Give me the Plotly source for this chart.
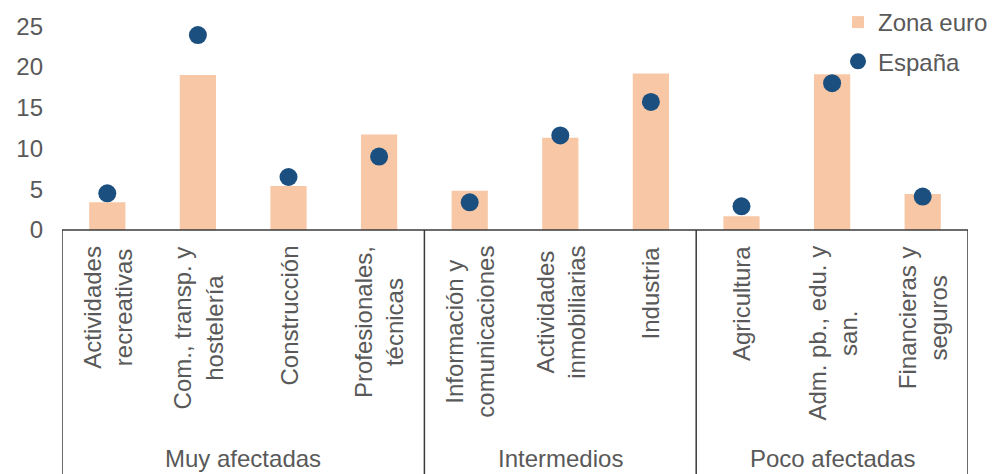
import plotly.graph_objects as go

# Sector data (percent of employment)
sectors = [
    "Actividades<br>recreativas",
    "Com., transp. y<br>hostelería",
    "Construcción",
    "Profesionales,<br>técnicas",
    "Información y<br>comunicaciones",
    "Actividades<br>inmobiliarias",
    "Industria",
    "Agricultura",
    "Adm. pb., edu. y<br>san.",
    "Financieras y<br>seguros",
]
zona_euro = [3.4, 19.0, 5.4, 11.7, 4.8, 11.3, 19.2, 1.7, 19.1, 4.4]
espana = [4.5, 23.9, 6.5, 9.0, 3.4, 11.6, 15.7, 2.9, 18.0, 4.1]
groups = ["Muy afectadas", "Intermedios", "Poco afectadas"]
group_sizes = [4, 3, 3]
y_ticks = [0, 5, 10, 15, 20, 25]

TEXT = "#595959"
LINE = "#3a3a3a"
FONT = "Liberation Sans, Arial, sans-serif"

W, H = 993, 474
ML, MR, MT, MB = 62, 23, 0, 244
plot_h = H - MT - MB
Y_MAX = 28.2

x = list(range(len(sectors)))

fig = go.Figure()
fig.add_trace(go.Bar(
    x=x, y=zona_euro, name="Zona euro", width=0.4,
    marker=dict(color="#F8C8A6", line=dict(width=0)),
    legendgroup="a",
))
fig.add_trace(go.Scatter(
    x=x, y=espana, name="España", mode="markers",
    marker=dict(color="#1B4F7F", size=18),
    legendgroup="b",
))

def px_to_paper(py):
    # pixel row (from top of page) -> paper y coordinate
    return (H - MB - py) / plot_h

# sector labels, rotated, hanging below the axis
for i, s in enumerate(sectors):
    fig.add_annotation(
        x=i, y=px_to_paper(244), xref="x", yref="paper",
        text=s, textangle=-90, showarrow=False,
        xanchor="center", yanchor="top", align="center",
        font=dict(family=FONT, size=24, color=TEXT),
    )

# group boxes: separators and labels
bounds = [-0.5]
for n in group_sizes:
    bounds.append(bounds[-1] + n)
bottom = px_to_paper(H + 5)
for b in bounds:
    fig.add_shape(type="line", xref="x", yref="paper",
                  x0=b, x1=b, y0=0, y1=bottom,
                  line=dict(color=LINE, width=1.5))
fig.add_shape(type="line", xref="x", yref="paper",
              x0=bounds[0], x1=bounds[-1], y0=0, y1=0,
              line=dict(color=LINE, width=1.5))
for g, a, b in zip(groups, bounds[:-1], bounds[1:]):
    fig.add_annotation(
        x=(a + b) / 2, y=px_to_paper(458), xref="x", yref="paper",
        text=g, showarrow=False, xanchor="center", yanchor="middle",
        font=dict(family=FONT, size=24, color=TEXT),
    )

fig.update_layout(
    width=W, height=H,
    margin=dict(l=ML, r=MR, t=MT, b=MB, pad=0),
    plot_bgcolor="white", paper_bgcolor="white",
    font=dict(family=FONT, size=24, color=TEXT),
    showlegend=True,
    legend=dict(
        x=(840 - ML) / (W - ML - MR), xanchor="left",
        y=1.0, yanchor="top",
        bgcolor="rgba(0,0,0,0)", traceorder="grouped",
        tracegroupgap=5, itemwidth=30,
        font=dict(family=FONT, size=24, color=TEXT),
    ),
    xaxis=dict(range=[-0.5, len(sectors) - 0.5], showticklabels=False,
               showgrid=False, zeroline=False, showline=False, ticks=""),
    yaxis=dict(range=[0, Y_MAX], tickvals=y_ticks, showgrid=False,
               zeroline=False, showline=False, ticks="",
               ticklabelstandoff=18,
               tickfont=dict(family=FONT, size=24, color=TEXT)),
)

fig.write_html("out.html")
